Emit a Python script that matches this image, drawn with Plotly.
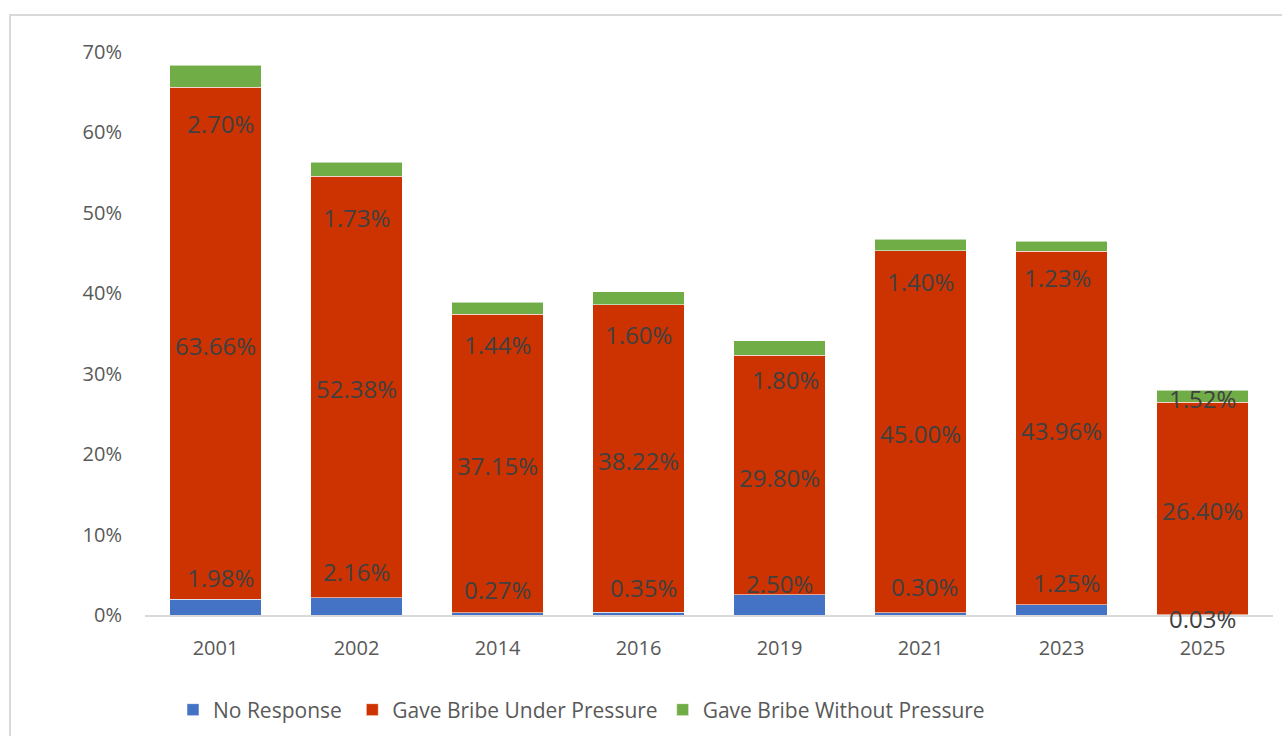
import plotly.graph_objects as go

# ---- data (percent) ----
years = ["2001", "2002", "2014", "2016", "2019", "2021", "2023", "2025"]
no_response = [1.98, 2.16, 0.27, 0.35, 2.50, 0.30, 1.25, 0.03]
under_pressure = [63.66, 52.38, 37.15, 38.22, 29.80, 45.00, 43.96, 26.40]
without_pressure = [2.70, 1.73, 1.44, 1.60, 1.80, 1.40, 1.23, 1.52]
series_names = ["No Response", "Gave Bribe Under Pressure", "Gave Bribe Without Pressure"]

# ---- style: label nudges in pixels (as placed in the original chart) ----
blue_label_dy = [22, 26, 23, 25, 11, 26, 22, -4]
blue_label_dx = [5, 0, 0, 5, 0, 4, 5, 0]
green_label_dy = [-36, -41, -30, -30, -24, -31, -26, 4]
green_label_dx = [5, 0, 0, 0, 6, 0, -4, 0]
red_label_dy = -2
legend_pad = ["\u00a0", "", ""]  # extra spacing between legend entries

colors = ["#4472C4", "#CC3300", "#70AD47"]
label_color = "#404040"
tick_color = "#595959"
FONT = "Open Sans"

nr = [v / 100 for v in no_response]
up = [v / 100 for v in under_pressure]
wp = [v / 100 for v in without_pressure]

fig = go.Figure()
for name, pad, vals, col in zip(series_names, legend_pad, [nr, up, wp], colors):
    fig.add_trace(go.Bar(
        x=years, y=vals, name=name + pad,
        marker=dict(color=col, line=dict(color="rgba(255,255,255,0.55)", width=1)),
        hoverinfo="x+y+name",
    ))

annotations = []
for i, yr in enumerate(years):
    # category index position on the category axis
    annotations.append(dict(
        x=i, y=nr[i], xref="x", yref="y", text=f"{no_response[i]:.2f}%",
        showarrow=False, yanchor="middle", xanchor="center",
        yshift=blue_label_dy[i], xshift=blue_label_dx[i],
        font=dict(family=FONT, size=24, color=label_color),
    ))
    annotations.append(dict(
        x=i, y=nr[i] + up[i] / 2, xref="x", yref="y", text=f"{under_pressure[i]:.2f}%",
        showarrow=False, yanchor="middle", xanchor="center",
        yshift=red_label_dy,
        font=dict(family=FONT, size=24, color=label_color),
    ))
    annotations.append(dict(
        x=i, y=nr[i] + up[i], xref="x", yref="y", text=f"{without_pressure[i]:.2f}%",
        showarrow=False, yanchor="middle", xanchor="center",
        yshift=green_label_dy[i], xshift=green_label_dx[i],
        font=dict(family=FONT, size=24, color=label_color),
    ))

L, R, T, B = 145, 9, 52, 121
W, H = 1282, 736
pw, ph = W - L - R, H - T - B

fig.update_layout(
    width=W, height=H,
    margin=dict(l=L, r=R, t=T, b=B, pad=0, autoexpand=False),
    barmode="stack",
    bargap=0.348,
    plot_bgcolor="white",
    paper_bgcolor="white",
    font=dict(family=FONT, color=tick_color, size=20),
    showlegend=True,
    legend=dict(
        orientation="h",
        x=(173 - L) / pw, xanchor="left",
        y=(615 - 710) / ph, yanchor="middle",
        font=dict(family=FONT, size=21, color=tick_color),
        traceorder="normal",
        bgcolor="rgba(0,0,0,0)",
    ),
    xaxis=dict(
        type="category",
        range=[-0.5, len(years) - 0.5], autorange=False,
        showgrid=False, zeroline=False,
        showline=True, linecolor="#D9D9D9", linewidth=2,
        ticks="", ticklabelstandoff=14,
        tickfont=dict(family=FONT, size=20, color=tick_color),
    ),
    yaxis=dict(
        range=[0, 0.70], autorange=False, dtick=0.10, tickformat=".0%",
        showgrid=False, zeroline=False, showline=False,
        ticks="", ticklabelstandoff=22,
        tickfont=dict(family=FONT, size=20, color=tick_color),
    ),
    annotations=annotations,
    shapes=[dict(
        type="rect", xref="paper", yref="paper", layer="below",
        x0=(10 - L) / pw, x1=(W + 10 - L) / pw,
        y0=(615 - 15) / ph, y1=(615 - (H + 10)) / ph,
        line=dict(color="#D9D9D9", width=2), fillcolor="rgba(0,0,0,0)",
    )],
)

fig.write_html("out.html")
